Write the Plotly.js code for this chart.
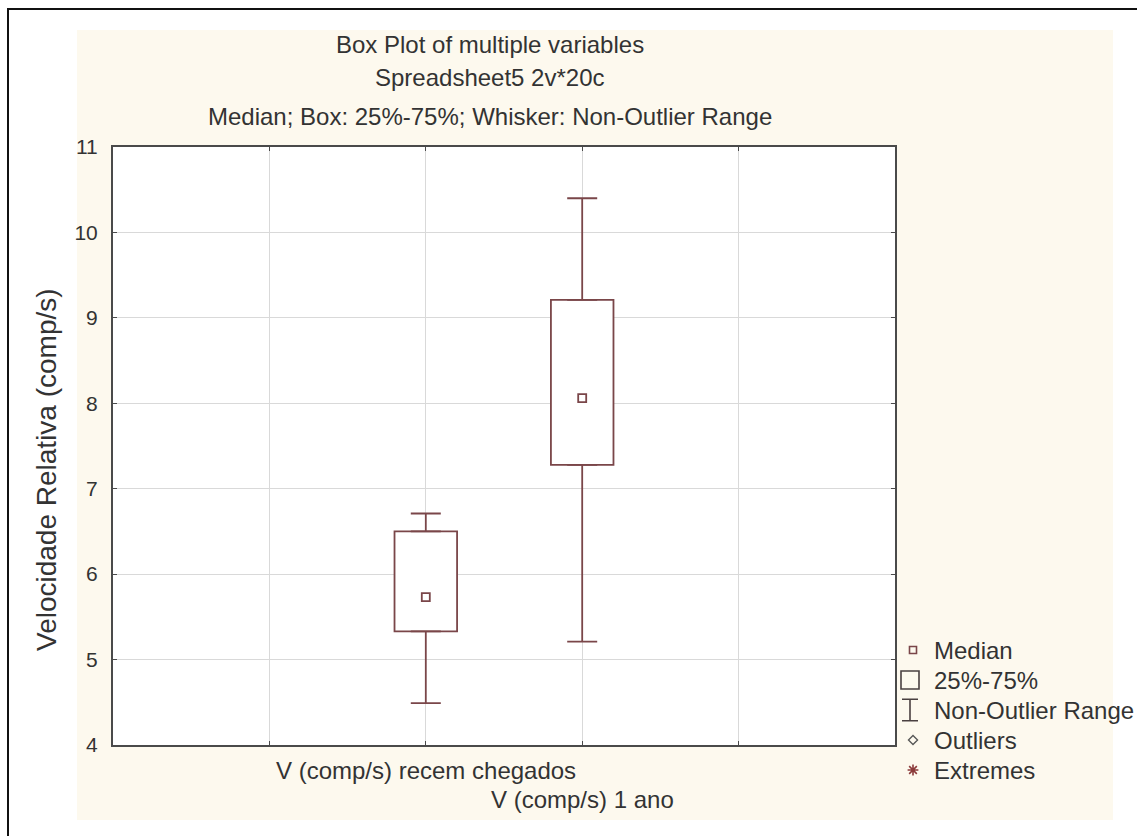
<!DOCTYPE html>
<html>
<head>
<meta charset="utf-8">
<script src="https://cdn.plot.ly/plotly-3.0.1.min.js"></script>
<style>
  html, body { margin: 0; padding: 0; background: #ffffff; }
  #frame { position: absolute; left: 7px; top: 8px; width: 1140px; height: 840px; border-left: 2px solid #111; border-top: 2px solid #111; }
  #beige { position: absolute; left: 77px; top: 30px; width: 1036px; height: 790px; background: #fdf9ee; }
  #chart { position: absolute; left: 0; top: 0; width: 1137px; height: 836px; }
</style>
</head>
<body>
<div id="frame"></div>
<div id="beige"></div>
<div id="chart"></div>
<script>
// ---- data ----
const categories = ["V (comp/s) recem chegados", "V (comp/s) 1 ano"];
const minValues = [4.49, 5.21];
const q1Values = [5.33, 7.28];
const medianValues = [5.73, 8.06];
const q3Values = [6.50, 9.21];
const maxValues = [6.71, 10.40];
const titleLines = ["Box Plot of multiple variables", "Spreadsheet5 2v*20c", "Median; Box: 25%-75%; Whisker: Non-Outlier Range"];
const yTitle = "Velocidade Relativa (comp/s)";
const yTicks = [4, 5, 6, 7, 8, 9, 10, 11];
const legendLabels = ["Median", "25%-75%", "Non-Outlier Range", "Outliers", "Extremes"];

// ---- styling / geometry ----
const W = 1137, H = 836;
const ML = 113, MT = 147;
const plotRight = 895, plotBottom = 745;
const areaW = W - ML, areaH = H - MT;
const boxColor = "#7a4649";
const textColor = "#333333";
const fontFam = "Liberation Sans, Arial, sans-serif";
const textSize = 24;
const xPos = categories.map((c, i) => i + 2);

const xDomain = [0, (plotRight - ML) / areaW];
const yDomain = [(H - plotBottom) / areaH, 1];
const legTop = 635, legBottom = 785;
const legLeft = 895;

const traces = [];
// boxes (25%-75%)
traces.push({
  type: "bar", x: xPos, base: q1Values,
  y: q3Values.map((v, i) => v - q1Values[i]),
  width: 0.4,
  marker: { color: "#ffffff", line: { color: boxColor, width: 1.8 } },
  hoverinfo: "skip", showlegend: false
});
// lower whiskers
traces.push({
  type: "scatter", mode: "markers", x: xPos, y: q1Values,
  marker: { size: 1, color: "rgba(0,0,0,0)" },
  error_y: { type: "data", symmetric: false, array: q1Values.map(() => 0),
             arrayminus: q1Values.map((v, i) => v - minValues[i]),
             color: boxColor, thickness: 1.8, width: 15 },
  hoverinfo: "skip", showlegend: false
});
// upper whiskers
traces.push({
  type: "scatter", mode: "markers", x: xPos, y: q3Values,
  marker: { size: 1, color: "rgba(0,0,0,0)" },
  error_y: { type: "data", symmetric: false, array: q3Values.map((v, i) => maxValues[i] - v),
             arrayminus: q3Values.map(() => 0),
             color: boxColor, thickness: 1.8, width: 15 },
  hoverinfo: "skip", showlegend: false
});
// medians
traces.push({
  type: "scatter", mode: "markers", x: xPos, y: medianValues,
  marker: { symbol: "square-open", size: 8, color: boxColor, line: { width: 1.8, color: boxColor } },
  hoverinfo: "skip", showlegend: false
});

// legend symbols (on a separate small axis pair)
const rows = legendLabels.map((l, i) => i);
traces.push({ type: "scatter", mode: "markers", xaxis: "x2", yaxis: "y2", x: [18], y: [rows[0]],
  marker: { symbol: "square-open", size: 7, color: boxColor, line: { width: 1.6, color: boxColor } }, showlegend: false, hoverinfo: "skip" });
traces.push({ type: "scatter", mode: "markers", xaxis: "x2", yaxis: "y2", x: [15], y: [rows[1]],
  marker: { symbol: "square-open", size: 18, color: "#4a4040", line: { width: 1.6, color: "#4a4040" } }, showlegend: false, hoverinfo: "skip" });
traces.push({ type: "scatter", mode: "markers", xaxis: "x2", yaxis: "y2", x: [15], y: [rows[2]],
  marker: { size: 1, color: "rgba(0,0,0,0)" },
  error_y: { type: "data", array: [0.36], color: "#4a4040", thickness: 1.6, width: 8 }, showlegend: false, hoverinfo: "skip" });
traces.push({ type: "scatter", mode: "markers", xaxis: "x2", yaxis: "y2", x: [18], y: [rows[3]],
  marker: { symbol: "diamond-open", size: 7, color: "#555", line: { width: 1.3, color: "#555" } }, showlegend: false, hoverinfo: "skip" });
traces.push({ type: "scatter", mode: "markers", xaxis: "x2", yaxis: "y2", x: [18], y: [rows[4]],
  marker: { symbol: "asterisk-open", size: 9, color: "#8b3a3a", line: { width: 1.6, color: "#8b3a3a" } }, showlegend: false, hoverinfo: "skip" });

const annotations = [];
// legend labels
legendLabels.forEach((lab, i) => annotations.push({
  xref: "x2", yref: "y2", x: 37, y: rows[i], text: lab, showarrow: false,
  xanchor: "left", yanchor: "middle", font: { family: fontFam, size: textSize, color: textColor }
}));
// title lines
const titleY = [45, 78, 117];
titleLines.forEach((t, i) => annotations.push({
  xref: "paper", yref: "paper", x: (490 - ML) / areaW, y: (H - titleY[i]) / areaH,
  text: t, showarrow: false, xanchor: "center", yanchor: "middle",
  font: { family: fontFam, size: textSize, color: textColor }
}));
// category labels (staggered)
const catY = [770, 799];
categories.forEach((c, i) => annotations.push({
  xref: "x", yref: "paper", x: xPos[i], y: (H - catY[i]) / areaH,
  text: c, showarrow: false, xanchor: "center", yanchor: "middle",
  font: { family: fontFam, size: textSize, color: textColor }
}));
// y axis title
annotations.push({
  xref: "paper", yref: "paper", x: (46 - ML) / areaW, y: (H - 470) / areaH,
  text: yTitle, textangle: -90, showarrow: false, xanchor: "center", yanchor: "middle",
  font: { family: fontFam, size: 28, color: textColor }
});

const layout = {
  width: W, height: H,
  margin: { l: ML, r: 0, t: MT, b: 0, pad: 0 },
  paper_bgcolor: "rgba(0,0,0,0)",
  plot_bgcolor: "rgba(0,0,0,0)",
  showlegend: false,
  barmode: "overlay",
  shapes: [{
    type: "rect", xref: "x domain", yref: "y domain", x0: 0, x1: 1, y0: 0, y1: 1,
    fillcolor: "#ffffff", line: { width: 0 }, layer: "below"
  }],
  xaxis: {
    domain: xDomain, range: [0, 5], tickvals: [1, 2, 3, 4], showticklabels: false,
    showgrid: true, gridcolor: "#d9d9d9", gridwidth: 1, zeroline: false,
    showline: true, linecolor: "#4a4a4a", linewidth: 2, mirror: "ticks",
    ticks: "inside", ticklen: 4, tickcolor: "#4a4a4a", fixedrange: true
  },
  yaxis: {
    domain: yDomain, range: [4, 11], tickvals: yTicks,
    showgrid: true, gridcolor: "#d9d9d9", gridwidth: 1, zeroline: false,
    showline: true, linecolor: "#4a4a4a", linewidth: 2, mirror: "ticks",
    ticks: "inside", ticklen: 4, tickcolor: "#4a4a4a",
    tickfont: { family: fontFam, size: 21, color: textColor },
    ticklabelstandoff: 9, fixedrange: true
  },
  xaxis2: {
    domain: [(legLeft - ML) / areaW, 1], range: [0, W - legLeft], anchor: "y2",
    visible: false, fixedrange: true
  },
  yaxis2: {
    domain: [(H - legBottom) / areaH, (H - legTop) / areaH], range: [4.5, -0.5], anchor: "x2",
    visible: false, fixedrange: true
  },
  annotations: annotations
};

Plotly.newPlot("chart", traces, layout, { displayModeBar: false, staticPlot: true });
</script>
</body>
</html>
